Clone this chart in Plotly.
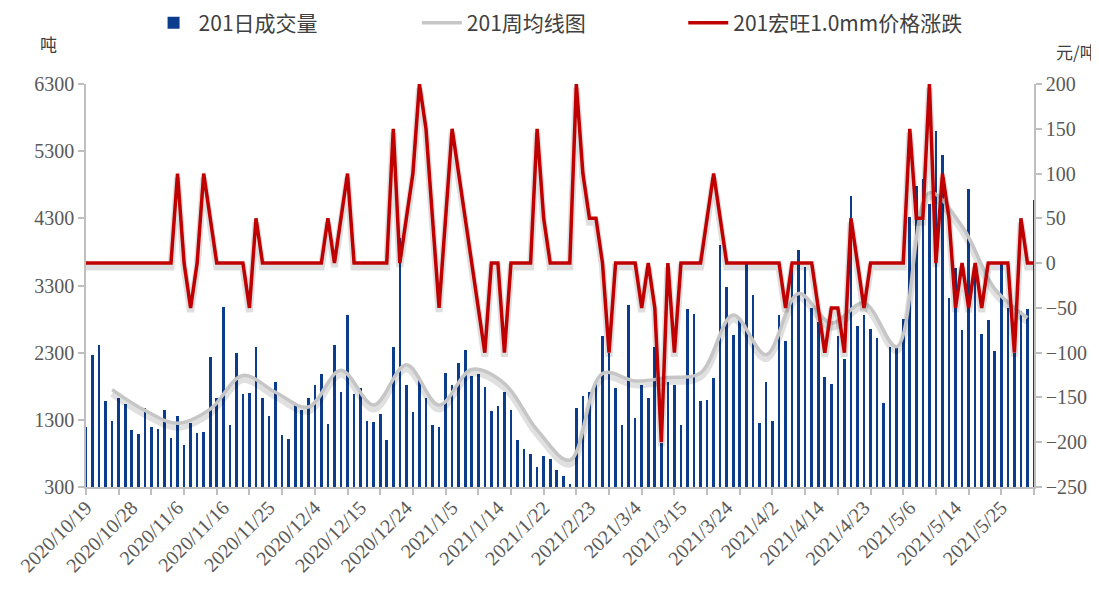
import plotly.graph_objects as go

# ── data ────────────────────────────────────────────────────────────────────
# daily volume (吨), one value per trading day, 2020/10/19 .. 2021/6/1
volume = [
    1200, 2260, 2410, 1580, 1280, 1630, 1540, 1150, 1090, 1480,
    1200, 1160, 1450, 1030, 1350, 920, 1250, 1110, 1120, 2230,
    1630, 2980, 1220, 2300, 1690, 1700, 2380, 1620, 1350, 1870,
    1080, 1010, 1540, 1450, 1630, 1820, 1980, 1240, 2410, 1710,
    2860, 1680, 1780, 1290, 1270, 1380, 1000, 2390, 4000, 1820,
    1410, 1910, 1620, 1220, 1190, 1990, 1820, 2140, 2340, 1950,
    1980, 1790, 1430, 1510, 1710, 1440, 1000, 860, 790, 600,
    760, 710, 550, 460, 340, 1480, 1650, 1710, 1880, 2550,
    2300, 1770, 1220, 3010, 1330, 1820, 1630, 2390, 950, 1870,
    1820, 1220, 2950, 2880, 1580, 1590, 1930, 3910, 3280, 2560,
    2800, 3620, 3160, 1250, 1860, 1280, 2860, 2480, 3580, 3830,
    3580, 2960, 2750, 1940, 1840, 2550, 2200, 4640, 2700, 2860,
    2650, 2520, 1550, 2380, 2390, 2800, 4320, 4780, 4890, 4520,
    5600, 5250, 3120, 3560, 2640, 4740, 3600, 2580, 2790, 2330,
    3630, 2960, 2300, 2920, 2950, 4580,
]

# price change (元/吨), same days
price_chg = [
    0, 0, 0, 0, 0, 0, 0, 0, 0, 0,
    0, 0, 0, 0, 100, 0, -50, 0, 100, 50,
    0, 0, 0, 0, 0, -50, 50, 0, 0, 0,
    0, 0, 0, 0, 0, 0, 0, 50, 0, 50,
    100, 0, 0, 0, 0, 0, 0, 150, 0, 50,
    100, 200, 150, 50, -50, 50, 150, 100, 50, 0,
    -50, -100, 0, 0, -100, 0, 0, 0, 0, 150,
    50, 0, 0, 0, 0, 200, 100, 50, 50, 0,
    -100, 0, 0, 0, 0, -50, 0, -50, -200, 0,
    -100, 0, 0, 0, 0, 50, 100, 50, 0, 0,
    0, 0, 0, 0, 0, 0, 0, -50, 0, 0,
    0, 0, -50, -100, -50, -50, -100, 50, 0, -50,
    0, 0, 0, 0, 0, 0, 150, 50, 50, 200,
    0, 100, 50, -50, 0, -50, 0, -50, 0, 0,
    0, 0, -100, 50, 0, 0,
]

# weekly average volume, one value per week (plotted on every 5th trading day from day 4)
weekly_avg = [
    1750, 1440, 1250, 1460, 1960, 1710, 1490, 2040, 1520, 2120,
    1520, 2050, 1840, 1150, 700, 1990, 1880, 1930, 2000, 2860,
    2270, 3180, 2740, 3040, 2390, 4680, 4180, 3250, 2820,
]

# date labels shown on the x axis (every 7th trading day)
date_labels = [
    "2020/10/19", "2020/10/28", "2020/11/6", "2020/11/16", "2020/11/25",
    "2020/12/4", "2020/12/15", "2020/12/24", "2021/1/5", "2021/1/14",
    "2021/1/22", "2021/2/23", "2021/3/4", "2021/3/15", "2021/3/24",
    "2021/4/2", "2021/4/14", "2021/4/23", "2021/5/6", "2021/5/14",
    "2021/5/25",
]

days = list(range(len(volume)))
week_days = days[4::5][:len(weekly_avg)]
label_days = days[::7][:len(date_labels)]

# ── style ───────────────────────────────────────────────────────────────────
BLUE = "#0c3c8c"
RED = "#c00000"
GRAY = "#c6c6c6"
AXIS = "#bfbfbf"
TXT = "#595959"
SERIF = "Liberation Serif, Times New Roman, serif"
CJK = "Noto Sans CJK SC, sans-serif"

X_RANGE = [0, len(volume) - 1]
VOL_RANGE = [300, 6300]
CHG_RANGE = [-250, 200]
SHADOW_PX = 4
PLOT_H = 403
vol_shift = SHADOW_PX * (VOL_RANGE[1] - VOL_RANGE[0]) / PLOT_H
chg_shift = SHADOW_PX * (CHG_RANGE[1] - CHG_RANGE[0]) / PLOT_H

fig = go.Figure()

fig.add_trace(go.Bar(
    name="201日成交量", x=days, y=volume, width=0.4,
    marker=dict(color=BLUE, line=dict(width=0)),
    xaxis="x", yaxis="y", legend="legend",
))
# soft shadow under the weekly line
fig.add_trace(go.Scatter(
    x=week_days, y=weekly_avg, mode="lines", line_shape="spline",
    line=dict(color="rgba(0,0,0,0.12)", width=7), showlegend=False,
    hoverinfo="skip", xaxis="x", yaxis="y2",
))
fig.add_trace(go.Scatter(
    name="201周均线图", x=week_days, y=weekly_avg, mode="lines",
    line_shape="spline", line=dict(color=GRAY, width=3.5),
    xaxis="x", yaxis="y3", legend="legend2",
))
# soft shadow under the price line
fig.add_trace(go.Scatter(
    x=days, y=price_chg, mode="lines",
    line=dict(color="rgba(0,0,0,0.13)", width=7), showlegend=False,
    hoverinfo="skip", xaxis="x", yaxis="y4",
))
fig.add_trace(go.Scatter(
    name="201宏旺1.0mm价格涨跌", x=days, y=price_chg, mode="lines",
    line=dict(color=RED, width=3.5),
    xaxis="x2", yaxis="y5", legend="legend3",
))

hidden_y = dict(overlaying="y", visible=False, showgrid=False, zeroline=False)
legend_style = dict(
    orientation="h", xanchor="left", y=1.151, yanchor="middle",
    font=dict(family=CJK, size=21, color="#404040"),
    itemwidth=40, bgcolor="rgba(0,0,0,0)",
)

# page body has an 8px margin, so the figure is 8px smaller than the window
fig.update_layout(
    width=1091, height=594,
    paper_bgcolor="white", plot_bgcolor="white",
    margin=dict(l=78, r=65, t=76, b=115, autoexpand=False),
    bargap=0,
    showlegend=True,
    legend=dict(x=0.066, **legend_style),
    legend2=dict(x=0.349, **legend_style),
    legend3=dict(x=0.630, **legend_style),
    xaxis=dict(
        range=X_RANGE, tickmode="linear", tick0=0, dtick=5, automargin=False,
        ticks="outside", ticklen=6, tickwidth=1.5, tickcolor=AXIS,
        showticklabels=False, showline=True, linecolor=AXIS, linewidth=1.5,
        showgrid=False, zeroline=False,
    ),
    xaxis2=dict(
        overlaying="x", anchor="y", side="bottom", range=X_RANGE, automargin=False,
        tickmode="array", tickvals=label_days, ticktext=date_labels,
        ticks="", tickangle=-45, ticklabelstandoff=4,
        tickfont=dict(family=SERIF, size=20, color=TXT),
        showline=False, showgrid=False, zeroline=False,
    ),
    yaxis=dict(
        range=VOL_RANGE, tickmode="linear", tick0=300, dtick=1000, automargin=False,
        ticks="outside", ticklen=6, tickwidth=1.5, tickcolor=AXIS,
        tickfont=dict(family=SERIF, size=20, color=TXT),
        showline=True, linecolor=AXIS, linewidth=1.5,
        showgrid=False, zeroline=False,
    ),
    yaxis2=dict(range=[VOL_RANGE[0] + vol_shift, VOL_RANGE[1] + vol_shift], **hidden_y),
    yaxis3=dict(range=VOL_RANGE, **hidden_y),
    yaxis4=dict(range=[CHG_RANGE[0] + chg_shift, CHG_RANGE[1] + chg_shift], **hidden_y),
    yaxis5=dict(
        overlaying="y", side="right", anchor="x", range=CHG_RANGE, automargin=False,
        tickmode="linear", tick0=-250, dtick=50,
        ticks="outside", ticklen=6, tickwidth=1.5, tickcolor=AXIS,
        tickfont=dict(family=SERIF, size=20, color=TXT),
        showline=True, linecolor=AXIS, linewidth=1.5,
        showgrid=False, zeroline=False,
    ),
    annotations=[
        dict(text="吨", xref="paper", yref="paper", x=-0.04, y=1.1,
             xanchor="center", yanchor="middle", showarrow=False,
             font=dict(family=CJK, size=17, color="#404040")),
        dict(text="元/吨", xref="paper", yref="paper", x=1.045, y=1.08,
             xanchor="center", yanchor="middle", showarrow=False,
             font=dict(family=CJK, size=17, color="#404040")),
    ],
)

fig.write_html("out.html")
